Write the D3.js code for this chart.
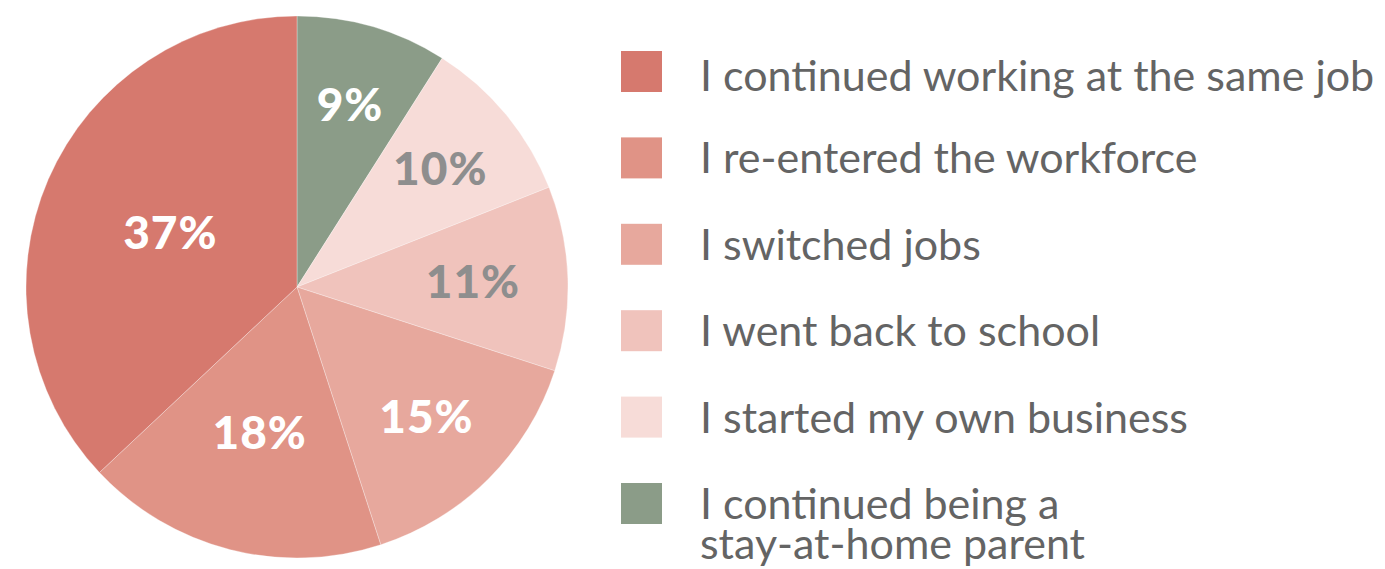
<!DOCTYPE html>
<html>
<head>
<meta charset="utf-8">
<script src="https://cdn.jsdelivr.net/npm/d3@7"></script>
<style>
  body { margin: 0; background: #fff; }
  svg { display: block; }
  .legendtext { font-family: Lato, 'Open Sans', sans-serif; fill: #646464; }
  .slicelabel { font-family: Lato, 'Open Sans', sans-serif; font-weight: 900; }
</style>
</head>
<body>
<div id="chart"></div>
<script>
const width = 1385;
const height = 569;

// datos (orden de la leyenda)
const categories = [
  'I continued working at the same job',
  'I re-entered the workforce',
  'I switched jobs',
  'I went back to school',
  'I started my own business',
  'I continued being a|stay-at-home parent'
];
const values = [37, 18, 15, 11, 10, 9];
const colors = ['#d6796e', '#e09386', '#e7a89d', '#f0c3bc', '#f7dcd8', '#8b9c88'];
const labelColors = ['#ffffff', '#ffffff', '#ffffff', '#8e8e8e', '#8e8e8e', '#ffffff'];

// radio al que va cada etiqueta (mismo orden que la leyenda)
const labelRadius = [138, 150, 183, 176, 186, 190];

const cx = 297;
const cy = 287;
const radius = 271;

const svg = d3.select('#chart')
  .append('svg')
  .attr('width', width)
  .attr('height', height);

const data = categories.map((c, i) => ({
  name: c, value: values[i], color: colors[i], label: labelColors[i], lr: labelRadius[i]
}));

// la porcion verde empieza a las 12 y el resto va en sentido horario (orden inverso)
const pie = d3.pie()
  .value(d => d.value)
  .sort(null);

const arcs = pie(data.slice().reverse());

const arc = d3.arc()
  .innerRadius(0)
  .outerRadius(radius);

const groupPie = svg.append('g')
  .attr('transform', `translate(${cx}, ${cy})`);

groupPie.selectAll('path')
  .data(arcs)
  .enter()
  .append('path')
  .attr('d', arc)
  .attr('fill', d => d.data.color)
  .attr('stroke', '#ffffff')
  .attr('stroke-opacity', 0.5)
  .attr('stroke-width', 0.6);

groupPie.selectAll('.slicelabel')
  .data(arcs)
  .enter()
  .append('text')
  .attr('class', 'slicelabel')
  .attr('transform', d => {
    const r = d.data.lr;
    const c = d3.arc().innerRadius(r).outerRadius(r).centroid(d);
    return `translate(${c[0]}, ${c[1]})`;
  })
  .attr('text-anchor', 'middle')
  .attr('dy', '0.36em')
  .attr('font-size', 46)
  .attr('letter-spacing', 1)
  .attr('fill', d => d.data.label)
  .text(d => `${d.data.value}%`);

// leyenda
const legendY = d3.scaleBand()
  .domain(d3.range(categories.length))
  .range([51, 51 + 86.4 * categories.length]);

const legend = svg.append('g').attr('class', 'legend');

const items = legend.selectAll('g')
  .data(data)
  .enter()
  .append('g')
  .attr('transform', (d, i) => `translate(621, ${legendY(i)})`);

items.append('rect')
  .attr('width', 41)
  .attr('height', 41)
  .attr('fill', d => d.color);

items.each(function (d, i) {
  const lines = d.name.split('|');
  lines.forEach((l, j) => {
    d3.select(this).append('text')
      .attr('class', 'legendtext')
      .attr('x', 79)
      .attr('y', (i === 0 ? 40 : 36) + j * 40)
      .attr('font-size', 43)
      .text(l);
  });
});
</script>
</body>
</html>
